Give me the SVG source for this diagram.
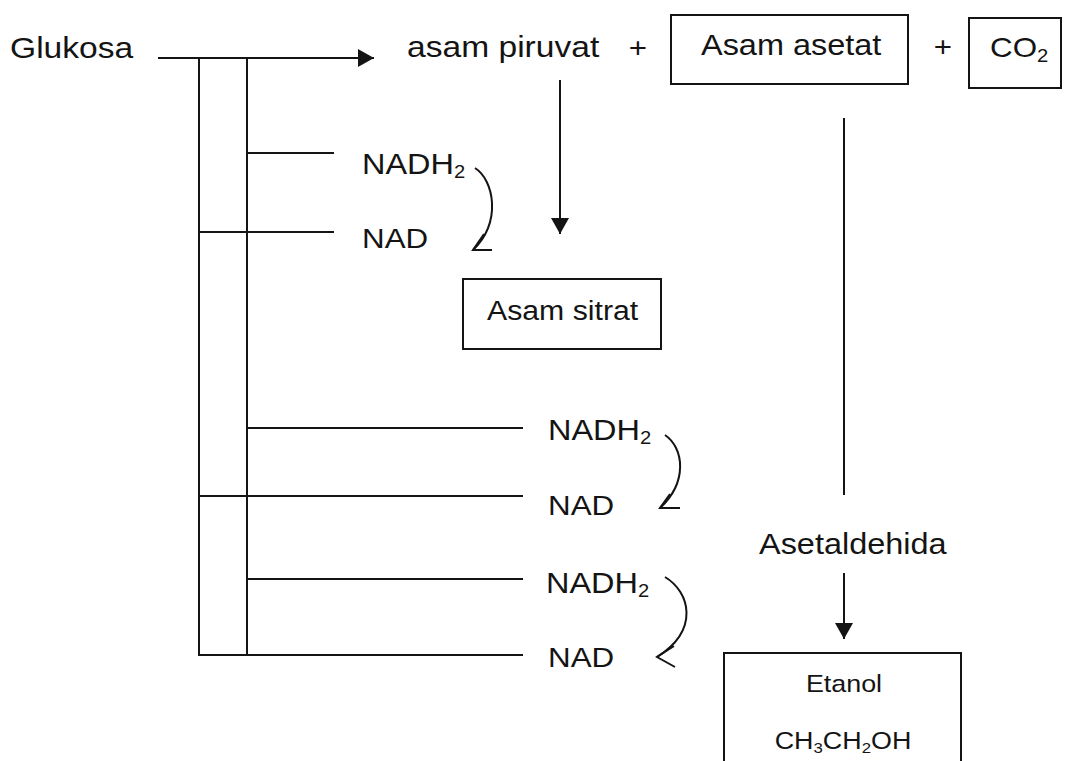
<svg xmlns="http://www.w3.org/2000/svg" width="1069" height="761" viewBox="0 0 1069 761">
<defs>
<style>
.t{font-family:"Liberation Sans",Arial,sans-serif;fill:#141414;}
.f30{font-size:30px;}
.f29{font-size:29px;}
.f28{font-size:28px;}
.f27{font-size:27px;}
.f24{font-size:24px;}
.sub{font-size:18px;}
.sub2{font-size:15px;}
.ln{stroke:#141414;stroke-width:2;fill:none;}
.bx{stroke:#141414;stroke-width:2;fill:none;}
</style>
<marker id="ah" viewBox="0 0 16 18" refX="16" refY="9" markerWidth="16" markerHeight="18" markerUnits="userSpaceOnUse" orient="auto">
<path d="M0,0 L16,9 L0,18 z" fill="#141414"/>
</marker>
</defs>
<rect width="1069" height="761" fill="#ffffff"/>

<g id="connectors">
<path class="ln" d="M158,58 H374" marker-end="url(#ah)"/>
<path class="ln" d="M199,58 V656"/>
<path class="ln" d="M247,58 V656"/>
<path class="ln" d="M247,153 H334"/>
<path class="ln" d="M199,232 H334"/>
<path class="ln" d="M247,428 H523"/>
<path class="ln" d="M199,496 H523"/>
<path class="ln" d="M247,579 H523"/>
<path class="ln" d="M198,655 H523"/>
<path class="ln" d="M560,80 V234" marker-end="url(#ah)"/>
<path class="ln" d="M844,118 V495"/>
<path class="ln" d="M844,573 V639" marker-end="url(#ah)"/>
<path class="ln" d="M475,168 C494,180 502,222 473,250"/>
<path class="ln" d="M492,250 H473 L484,234"/>
<path class="ln" d="M665,435 C684,448 688,482 660,508"/>
<path class="ln" d="M680,508 H660 L670,494"/>
<path class="ln" d="M665,577 C690,592 700,630 657,657"/>
<path class="ln" d="M674,646 L657,657 L675,667"/>
</g>

<g id="glukosa"><text class="t f30" transform="translate(10,58) scale(1.12,1)">Glukosa</text></g>
<g id="asam-piruvat"><text class="t f30" transform="translate(407,57) scale(1.12,1)">asam piruvat</text></g>
<g id="plus1"><text class="t f28" text-anchor="middle" transform="translate(638,57) scale(1.12,1)">+</text></g>
<g id="asam-asetat">
<rect class="bx" x="671" y="15" width="237" height="69"/>
<text class="t f29" transform="translate(701,55) scale(1.12,1)">Asam asetat</text>
</g>
<g id="plus2"><text class="t f28" text-anchor="middle" transform="translate(943,56) scale(1.12,1)">+</text></g>
<g id="co2">
<rect class="bx" x="969" y="18" width="92" height="70"/>
<text class="t f28" transform="translate(990,57) scale(1.12,1)">CO<tspan class="sub" dy="5">2</tspan></text>
</g>
<g id="nadh2-1"><text class="t f29" transform="translate(362,174) scale(1.12,1)">NADH<tspan class="sub" dy="4">2</tspan></text></g>
<g id="nad-1"><text class="t f28" transform="translate(362,248) scale(1.12,1)">NAD</text></g>
<g id="asam-sitrat">
<rect class="bx" x="463" y="279" width="198" height="70"/>
<text class="t f27" transform="translate(487,320) scale(1.12,1)">Asam sitrat</text>
</g>
<g id="nadh2-2"><text class="t f29" transform="translate(548,440) scale(1.12,1)">NADH<tspan class="sub" dy="4">2</tspan></text></g>
<g id="nad-2"><text class="t f28" transform="translate(548,515) scale(1.12,1)">NAD</text></g>
<g id="nadh2-3"><text class="t f29" transform="translate(546,593) scale(1.12,1)">NADH<tspan class="sub" dy="4">2</tspan></text></g>
<g id="nad-3"><text class="t f28" transform="translate(548,667) scale(1.12,1)">NAD</text></g>
<g id="asetaldehida"><text class="t f29" transform="translate(759,554) scale(1.12,1)">Asetaldehida</text></g>
<g id="etanol">
<rect class="bx" x="724" y="653" width="237" height="120"/>
<text class="t f24" text-anchor="middle" transform="translate(844,692) scale(1.12,1)">Etanol</text>
<text class="t f24" text-anchor="middle" transform="translate(843,749) scale(1.12,1)">CH<tspan class="sub2" dy="4">3</tspan><tspan dy="-4">CH</tspan><tspan class="sub2" dy="4">2</tspan><tspan dy="-4">OH</tspan></text>
</g>
</svg>
